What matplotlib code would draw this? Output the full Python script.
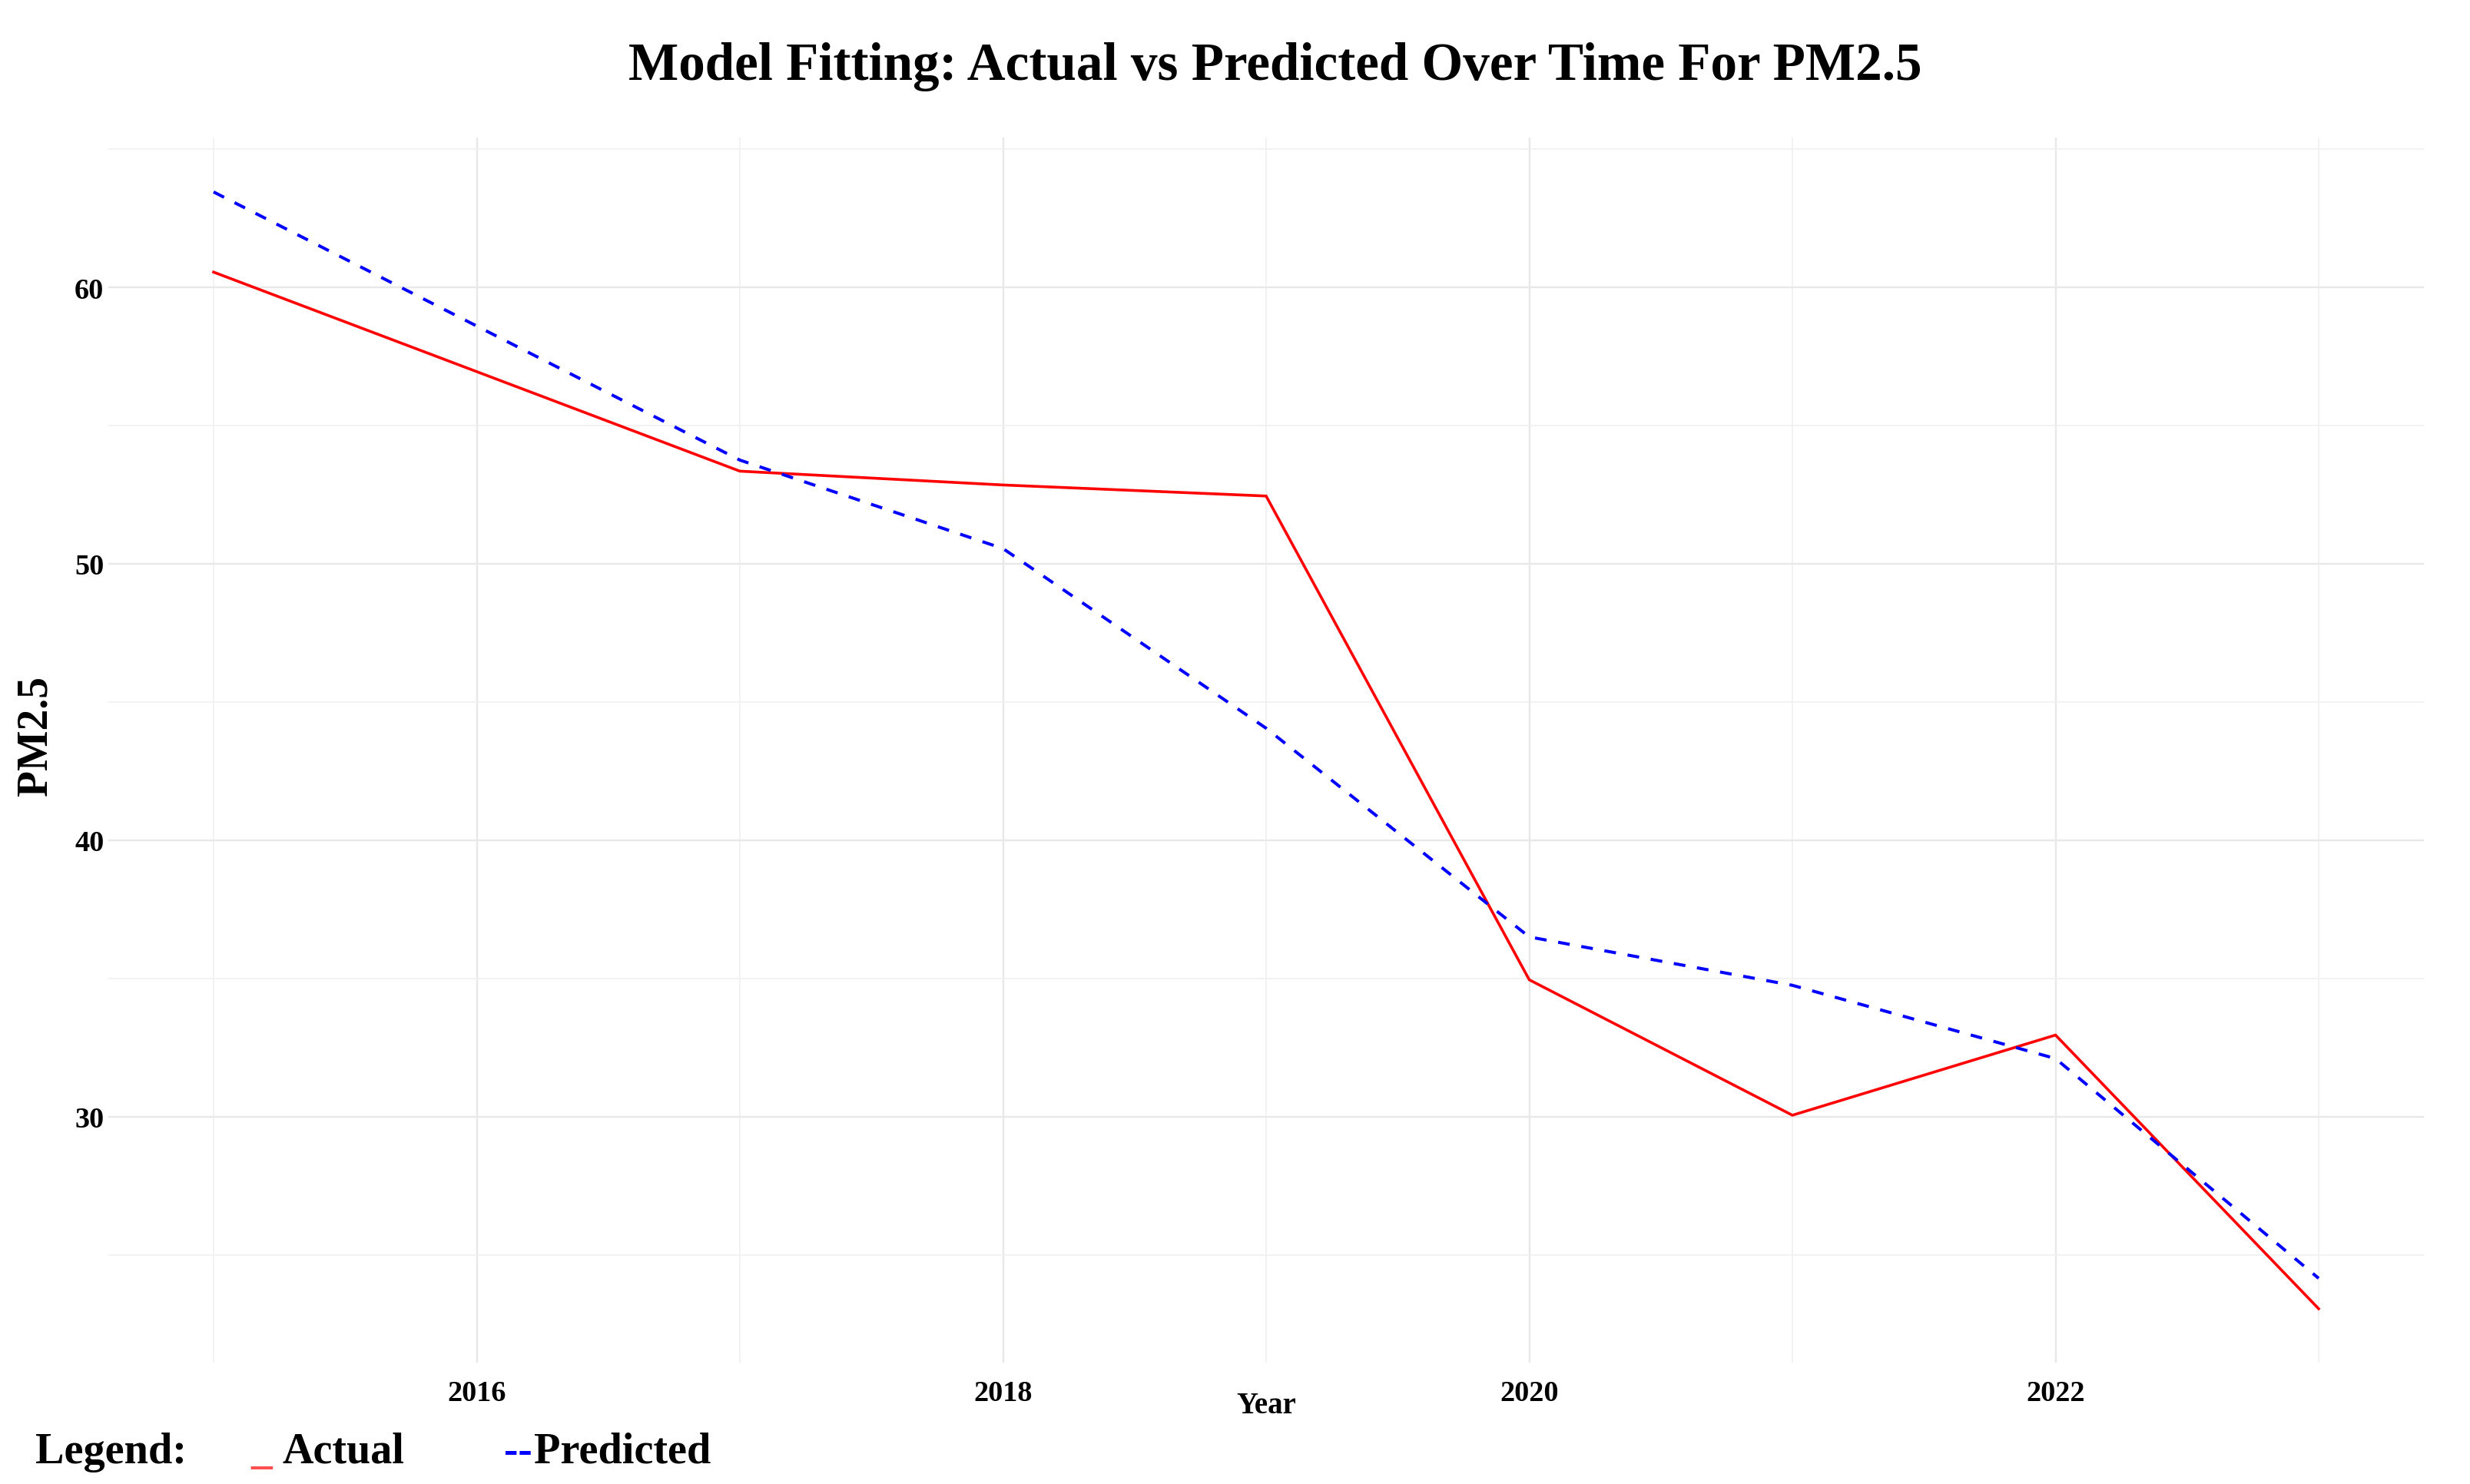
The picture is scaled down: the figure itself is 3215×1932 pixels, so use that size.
import numpy as np
import matplotlib
matplotlib.use("Agg")
import matplotlib.pyplot as plt
from matplotlib.ticker import MultipleLocator

# values
years = [2015, 2016, 2017, 2018, 2019, 2020, 2021, 2022, 2023]
actual = [60.55, 56.95, 53.35, 52.85, 52.45, 34.95, 30.05, 32.95, 23.05]
predicted = [63.45, 58.6, 53.75, 50.55, 44.05, 36.5, 34.75, 32.1, 24.15]

title = "Model Fitting: Actual vs Predicted Over Time For PM2.5"
serif = ["Liberation Serif", "DejaVu Serif"]

plt.rcParams['font.family'] = serif
plt.rcParams['font.weight'] = 'bold'

fig = plt.figure(figsize=(32.15, 19.33), dpi=100)
ax = fig.add_axes([0.04386, 0.08174, 0.93748, 0.82514])

ax.plot(years, actual, color='#ff0000', lw=2.6, solid_joinstyle='miter', zorder=3)
ax.plot(years, predicted, color='#0000ff', lw=2.9, dashes=(3.8, 3.8), zorder=3)

ax.set_xlim(2014.6, 2023.4)
ax.set_ylim(21.1, 65.42)

ax.xaxis.set_major_locator(MultipleLocator(2))
ax.xaxis.set_minor_locator(MultipleLocator(1))
ax.yaxis.set_major_locator(MultipleLocator(10))
ax.yaxis.set_minor_locator(MultipleLocator(5))

ax.grid(which='major', color='#e8e8e8', lw=1.7)
ax.grid(which='minor', color='#f0f0f0', lw=1.2)
ax.set_axisbelow(True)
for s in ax.spines.values():
    s.set_visible(False)

ax.tick_params(which='both', length=0)
ax.tick_params(axis='x', pad=16, labelsize=27.5)
ax.tick_params(axis='y', pad=4, labelsize=27.5)
for lab in ax.get_xticklabels() + ax.get_yticklabels():
    lab.set_fontweight('bold')

ax.set_xlabel("Year", fontsize=28, fontweight='bold', va='center')
ax.xaxis.set_label_coords(0.5, -0.0351)
ax.set_ylabel("PM2.5", fontsize=40, fontweight='bold', va='center')
ax.yaxis.set_label_coords(-0.0312, 0.5125)

fig.text(0.5163, 0.955, title, fontsize=49.8, fontweight='bold', ha='center', va='center')

# legend row along the bottom
ly = 1 - 1891 / 1933
fig.text(46 / 3215, ly, "Legend:", fontsize=40.5, ha='left', va='center')
fig.text(326 / 3215, ly, "_", fontsize=40, color='#ff5050', ha='left', va='center')
fig.text(368 / 3215, ly, "Actual", fontsize=40.5, ha='left', va='center')
fig.text(656 / 3215, ly, "--", fontsize=40, color='#0000ff', ha='left', va='center')
fig.text(695 / 3215, ly, "Predicted", fontsize=40.5, ha='left', va='center')

fig.savefig("out.png", dpi=100, facecolor='white')
